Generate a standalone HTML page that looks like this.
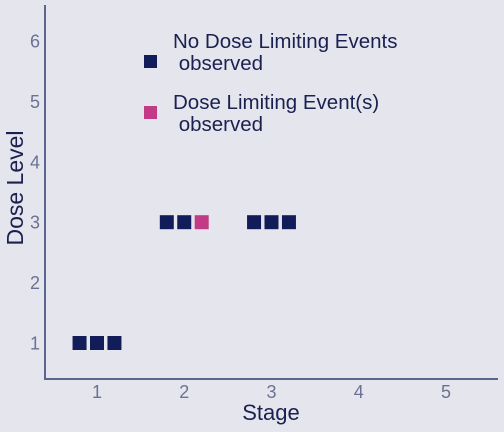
<!DOCTYPE html>
<html><head><meta charset="utf-8"><style>
body{margin:0;background:#e5e6ed;}
svg{display:block;font-family:"Liberation Sans","DejaVu Sans",sans-serif;}
</style></head><body>
<svg width="504" height="432">
<rect width="504" height="432" fill="#e5e6ed"/>
<g id="plot"></g>
<text x="271" y="420" text-anchor="middle" font-size="22" fill="#1a2150">Stage</text>
<text transform="translate(23,188) rotate(-90)" text-anchor="middle" font-size="23" fill="#1a2150">Dose Level</text>
<g>
<rect x="144" y="55" width="13" height="13" fill="#111c58"/>
<text x="173" y="48" font-size="20.5" fill="#1a2150"><tspan x="173">No Dose Limiting Events</tspan><tspan x="173" dy="22"> observed</tspan></text>
<rect x="144" y="106" width="13" height="13" fill="#c23b84"/>
<text x="173" y="109" font-size="20.5" fill="#1a2150"><tspan x="173">Dose Limiting Event(s)</tspan><tspan x="173" dy="22"> observed</tspan></text>
</g>
</svg>
<script>
const xTicks=[1,2,3,4,5];
const yTicks=[1,2,3,4,5,6];
const ptStage=[0.8,1,1.2,1.8,2,2.2,2.8,3,3.2];
const ptDose=[1,1,1,3,3,3,3,3,3];
const ptDLE=[0,0,0,0,0,1,0,0,0];
const X=v=>97+(v-1)*87.25;
const Y=v=>343-(v-1)*60.4;
const g=document.getElementById('plot');
const NS='http://www.w3.org/2000/svg';
function mk(t,a){const e=document.createElementNS(NS,t);for(const k in a)e.setAttribute(k,a[k]);g.appendChild(e);return e;}
let e=mk('line',{x1:45,y1:5,x2:45,y2:379,stroke:'#5c6591','stroke-width':2});


e=mk('line',{x1:44,y1:379,x2:498,y2:379,stroke:'#5c6591','stroke-width':2});


xTicks.forEach(v=>{
 const t=mk('text',{x:X(v),y:398,'text-anchor':'middle','font-size':18,fill:'#6b7194'});t.textContent=v;
 
 
});
yTicks.forEach(v=>{
 const t=mk('text',{x:40,y:Y(v)+6.5,'text-anchor':'end','font-size':18,fill:'#6b7194'});t.textContent=v;
 
 
});
ptStage.forEach((s,i)=>{
 const r=mk('rect',{x:X(s)-7,y:Y(ptDose[i])-7,width:14,height:14,fill:ptDLE[i]?'#c23b84':'#111c58'});
 
 
});
</script>
</body></html>
